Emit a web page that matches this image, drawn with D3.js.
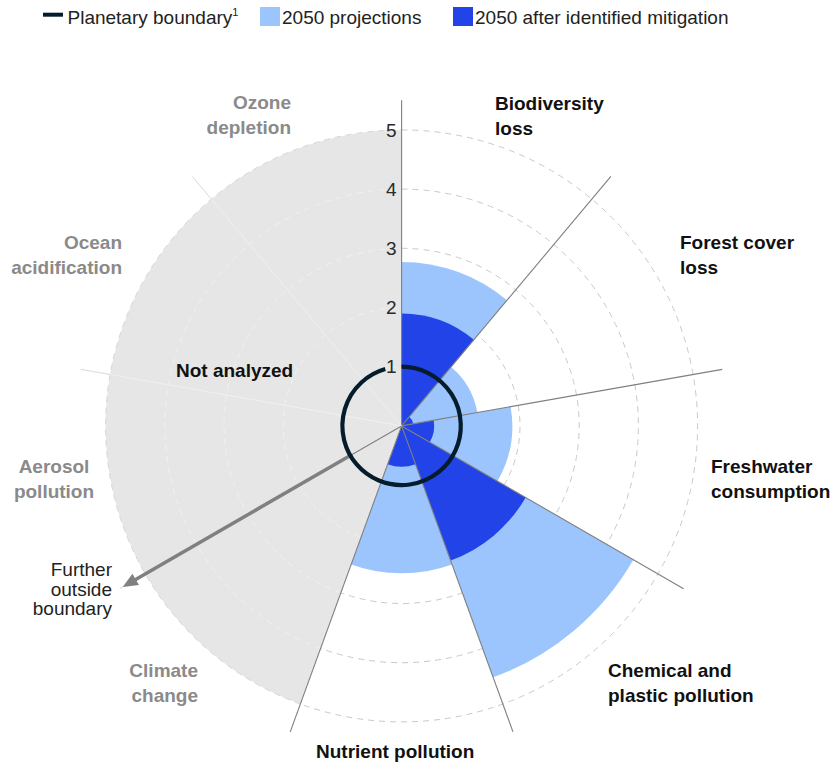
<!DOCTYPE html>
<html>
<head>
<meta charset="utf-8">
<script src="https://cdn.jsdelivr.net/npm/d3@7"></script>
<style>
  html, body { margin: 0; padding: 0; background: #fff; }
  svg { display: block; font-family: "Liberation Sans", Arial, sans-serif; }
</style>
</head>
<body>
<svg id="chart" width="830" height="764"></svg>
<script>
// Planetary boundaries, 2050 outlook (multiples of the safe boundary)
const categories = [
  "Biodiversity loss", "Forest cover loss", "Freshwater consumption",
  "Chemical and plastic pollution", "Nutrient pollution",
  "Climate change", "Aerosol pollution", "Ocean acidification", "Ozone depletion"
];
const labelLines = [
  ["Biodiversity", "loss"], ["Forest cover", "loss"], ["Freshwater", "consumption"],
  ["Chemical and", "plastic pollution"], ["Nutrient pollution"],
  ["Climate", "change"], ["Aerosol", "pollution"], ["Ocean", "acidification"], ["Ozone", "depletion"]
];
const analyzed = [true, true, true, true, true, false, false, false, false];
const projection2050 = [2.77, 1.3, 1.87, 4.52, 2.49];
const afterMitigation = [1.9, 0.2, 0.55, 2.42, 0.69];
const tickValues = [1, 2, 3, 4, 5];
const boundaryValue = 1;
const arrowValue = 5.44;
const seriesNames = ["Planetary boundary", "2050 projections", "2050 after identified mitigation"];

const colors = { light: "#9cc5fd", dark: "#2143e8", ring: "#051c2c", grey: "#e6e6e6",
                 spoke: "#7f7f7f", grid: "#c9c9c9", label: "#111", muted: "#8a8a8a" };

const svg = d3.select("#chart");
const cx = 401.6, cy = 425.9;
const r = d3.scaleLinear().domain([0, 5]).range([0, 296]);
const sector = d3.scaleLinear().domain([0, categories.length]).range([0, 2 * Math.PI]);
const g = svg.append("g").attr("transform", `translate(${cx},${cy})`);

// helpers: d3 arc angle (0 = 12 o'clock, clockwise) to screen point
const pt = (a, rad) => [Math.sin(a) * rad, -Math.cos(a) * rad];
const arcPath = (rad, a0, a1) => {
  const p = d3.path();
  p.arc(0, 0, rad, a0 - Math.PI / 2, a1 - Math.PI / 2, false);
  return p.toString();
};

const firstGrey = analyzed.indexOf(false);
const greyStart = sector(firstGrey), greyEnd = sector(categories.length);

// "Not analyzed" area
g.append("path")
  .attr("d", d3.arc()({ innerRadius: 0, outerRadius: r(5), startAngle: greyStart, endAngle: greyEnd }))
  .attr("fill", colors.grey);

// circular grid
tickValues.forEach(t => {
  g.append("path").attr("d", arcPath(r(t), 0, greyStart))
    .attr("fill", "none").attr("stroke", colors.grid).attr("stroke-width", 1)
    .attr("stroke-dasharray", "6,5");
  g.append("path").attr("d", arcPath(r(t), greyStart, greyEnd))
    .attr("fill", "none").attr("stroke", t === 5 ? "#d6d6d6" : "#f1f1f1").attr("stroke-width", 1)
    .attr("stroke-dasharray", "6,5");
});

// bars
const barArc = d3.arc().innerRadius(0);
g.selectAll("path.proj").data(projection2050).join("path")
  .attr("class", "proj")
  .attr("d", (v, i) => barArc({ outerRadius: r(v), startAngle: sector(i), endAngle: sector(i + 1) }))
  .attr("fill", colors.light);
g.selectAll("path.mit").data(afterMitigation).join("path")
  .attr("class", "mit")
  .attr("d", (v, i) => barArc({ outerRadius: r(v), startAngle: sector(i), endAngle: sector(i + 1) }))
  .attr("fill", colors.dark);

// spokes
const spokeIdx = d3.range(categories.length);
spokeIdx.forEach(i => {
  const a = sector(i);
  const inAnalyzed = i <= firstGrey;
  if (inAnalyzed) {
    const [x, y] = pt(a, r(5.5));
    g.append("line").attr("x1", 0).attr("y1", 0).attr("x2", x).attr("y2", y)
      .attr("stroke", colors.spoke).attr("stroke-width", 1.1);
  } else {
    const [x0, y0] = pt(a, r(5));
    const [x1, y1] = pt(a, r(5.5));
    g.append("line").attr("x1", 0).attr("y1", 0).attr("x2", x0).attr("y2", y0)
      .attr("stroke", "#f0f0f0").attr("stroke-width", 1);
    g.append("line").attr("x1", x0).attr("y1", y0).attr("x2", x1).attr("y2", y1)
      .attr("stroke", "#d9d9d9").attr("stroke-width", 1);
  }
});

// direction arrow: further outside the boundary
const arrowAngle = sector(firstGrey + 1);
{
  const [xb, yb] = pt(arrowAngle, r(boundaryValue));
  g.append("line").attr("x1", 0).attr("y1", 0).attr("x2", xb).attr("y2", yb)
    .attr("stroke", colors.spoke).attr("stroke-width", 1.1);
  const headLen = 15, headW = 6.5;
  const [xs, ys] = pt(arrowAngle, r(arrowValue) - headLen + 2);
  g.append("line").attr("x1", xb).attr("y1", yb).attr("x2", xs).attr("y2", ys)
    .attr("stroke", "#808080").attr("stroke-width", 3.5);
  const tip = pt(arrowAngle, r(arrowValue));
  const base = pt(arrowAngle, r(arrowValue) - headLen);
  const nx = Math.cos(arrowAngle), ny = Math.sin(arrowAngle);
  g.append("polygon")
    .attr("points", [tip, [base[0] + nx * headW, base[1] + ny * headW], [base[0] - nx * headW, base[1] - ny * headW]]
      .map(p => p.join(",")).join(" "))
    .attr("fill", "#808080");
}

// planetary boundary ring (opened where the "1" tick sits)
g.append("path")
  .attr("d", arcPath(r(boundaryValue), 0, 2 * Math.PI - 16 * Math.PI / 180))
  .attr("fill", "none").attr("stroke", colors.ring).attr("stroke-width", 4.2);

// radial tick labels
g.selectAll("text.tick").data(tickValues).join("text")
  .attr("class", "tick")
  .attr("x", -5).attr("y", t => -r(t)).attr("dy", "0.35em")
  .attr("text-anchor", "end").attr("font-size", 19).attr("fill", "#2a2a2a")
  .text(t => t);

// category labels
const labelLayout = [
  { x: 495, y: 110, anchor: "start" },
  { x: 680, y: 249, anchor: "start" },
  { x: 711, y: 473, anchor: "start" },
  { x: 608, y: 677, anchor: "start" },
  { x: 316, y: 758, anchor: "start" },
  { x: 198, y: 677, anchor: "end" },
  { x: 54, y: 473, anchor: "middle" },
  { x: 122, y: 249, anchor: "end" },
  { x: 291, y: 109, anchor: "end" }
];
categories.forEach((c, i) => {
  const L = labelLayout[i];
  const t = svg.append("text")
    .attr("x", L.x).attr("y", L.y).attr("text-anchor", L.anchor)
    .attr("font-size", 19).attr("font-weight", 700)
    .attr("fill", analyzed[i] ? colors.label : colors.muted);
  labelLines[i].forEach((line, k) => {
    t.append("tspan").attr("x", L.x).attr("dy", k === 0 ? 0 : 24.5).text(line);
  });
});

svg.append("text").attr("x", 176).attr("y", 377)
  .attr("font-size", 19).attr("font-weight", 700).attr("fill", colors.label)
  .text("Not analyzed");

const note = svg.append("text").attr("x", 112).attr("y", 576)
  .attr("text-anchor", "end").attr("font-size", 19).attr("fill", "#222");
["Further", "outside", "boundary"].forEach((line, k) => {
  note.append("tspan").attr("x", 112).attr("dy", k === 0 ? 0 : 19.5).text(line);
});

// legend
const lg = svg.append("g").attr("font-size", 19).attr("fill", "#222");
lg.append("line").attr("x1", 43).attr("x2", 63).attr("y1", 14.7).attr("y2", 14.7)
  .attr("stroke", colors.ring).attr("stroke-width", 4);
const lt = lg.append("text").attr("x", 67.5).attr("y", 24);
lt.append("tspan").text(seriesNames[0]);
lt.append("tspan").attr("font-size", 11).attr("dy", -8).text("1");
lg.append("rect").attr("x", 260).attr("y", 7).attr("width", 20).attr("height", 19).attr("fill", colors.light);
lg.append("text").attr("x", 282).attr("y", 24).text(seriesNames[1]);
lg.append("rect").attr("x", 453).attr("y", 7).attr("width", 20).attr("height", 19).attr("fill", colors.dark);
lg.append("text").attr("x", 475).attr("y", 24).text(seriesNames[2]);
</script>
</body>
</html>
